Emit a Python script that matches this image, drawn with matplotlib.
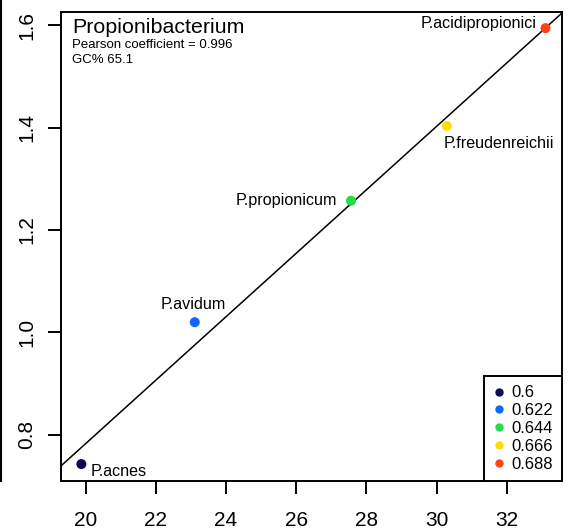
import numpy as np
import matplotlib
matplotlib.use("Agg")
import matplotlib.pyplot as plt
from matplotlib.lines import Line2D

plt.rcParams['font.family'] = ['Liberation Sans', 'DejaVu Sans']

# data
species = ["P.acnes", "P.avidum", "P.propionicum", "P.freudenreichii", "P.acidipropionici"]
x_vals = [19.88, 23.11, 27.56, 30.29, 33.10]
y_vals = [0.743, 1.020, 1.257, 1.403, 1.594]
point_colors = ["#0b0b4d", "#1166ff", "#22dd44", "#ffdd00", "#ff4411"]
legend_values = ["0.6", "0.622", "0.644", "0.666", "0.688"]
legend_colors = ["#0b0b4d", "#1166ff", "#22dd44", "#ffdd00", "#ff4411"]
x_ticks = [20, 22, 24, 26, 28, 30, 32]
y_ticks = [0.8, 1.0, 1.2, 1.4, 1.6]

# label offsets in points (dx, dy, ha)
label_offsets = [(6.5, -8.4, "left"), (-1.2, 9.4, "center"), (-10, -2.9, "right"),
                 (-2, -16, "left"), (-6.3, 0, "right")]

fig = plt.figure(figsize=(5.7, 5.32), dpi=100)
ax = fig.add_axes([0.107, 0.0959, 0.879, 0.882])

slope, intercept = np.polyfit(x_vals, y_vals, 1)
xl = np.array([19.0, 34.0])
ax.plot(xl, slope * xl + intercept, color="black", lw=1.1, zorder=2)

ax.scatter(x_vals, y_vals, c=point_colors, s=52, zorder=3, linewidths=0)

for name, x, y, (dx, dy, ha) in zip(species, x_vals, y_vals, label_offsets):
    ax.annotate(name, (x, y), xytext=(dx, dy), textcoords="offset points",
                ha=ha, va="baseline", fontsize=11.6)

ax.text(0.022, 0.9546, "Propionibacterium", transform=ax.transAxes, fontsize=15.4, va="baseline")
ax.text(0.022, 0.9227, "Pearson coefficient = 0.996", transform=ax.transAxes, fontsize=9.5, va="baseline")
ax.text(0.022, 0.8907, "GC% 65.1", transform=ax.transAxes, fontsize=9.5, va="baseline")

ax.set_xlim(19.30, 33.57)
ax.set_ylim(0.710, 1.626)
ax.set_xticks(x_ticks)
ax.set_yticks(y_ticks)
ax.set_yticklabels([f"{v:.1f}" for v in y_ticks], rotation=90, va="center")
ax.tick_params(axis="x", length=9.4, width=1.4, pad=12.5, labelsize=15)
ax.tick_params(axis="y", length=9.4, width=1.4, pad=8.3, labelsize=15)
for s in ax.spines.values():
    s.set_linewidth(1.4)

handles = [Line2D([], [], marker="o", ls="", color=c, markersize=5) for c in legend_colors]
leg = ax.legend(handles, legend_values, loc="lower right", borderaxespad=0, fontsize=12,
                fancybox=False, framealpha=1, edgecolor="black", handlelength=0.7,
                handletextpad=0.36, labelspacing=0.17, borderpad=0.55)
leg.get_frame().set_linewidth(1.4)

fig.add_artist(Line2D([0.002, 0.002], [0.0959, 1.0], transform=fig.transFigure, color="black", lw=1.5))

fig.savefig("out.png", dpi=100)
